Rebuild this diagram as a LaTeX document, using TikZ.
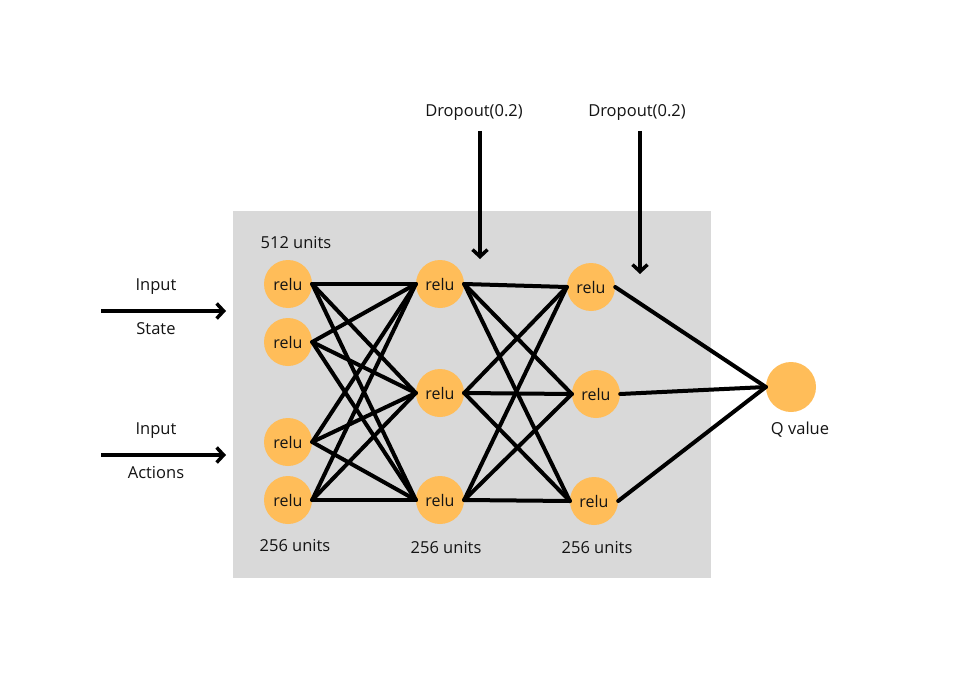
\documentclass[tikz,border=0pt]{standalone}
\usepackage{fontspec}
\setmainfont{Open Sans}
\usetikzlibrary{arrows.meta}
\definecolor{panel}{RGB}{217,217,217}
\definecolor{neuron}{RGB}{255,189,89}
\definecolor{ink}{RGB}{20,20,20}
\begin{document}
\begin{tikzpicture}[x=1pt,y=-1pt,
  unit/.style={circle,fill=neuron,minimum size=48pt,inner sep=0pt,text=ink,font=\fontsize{16}{19}\selectfont},
  lbl/.style={font=\fontsize{16.5}{20}\selectfont,text=ink,inner sep=0pt},
  wire/.style={line width=4pt,line cap=round},
  feed/.style={line width=4pt,-{Straight Barb[length=7pt,width=15pt,line width=3.5pt]}}]
\useasboundingbox[fill=white] (0,0) rectangle (965,679);
\fill[panel] (233,211) rectangle (711,578);

% hidden layer 1
\node[unit] (a1) at (288,284) {relu};
\node[unit] (a2) at (288,342) {relu};
\node[unit] (a3) at (288,442) {relu};
\node[unit] (a4) at (288,500) {relu};
% hidden layer 2
\node[unit] (b1) at (440,284) {relu};
\node[unit] (b2) at (440,393) {relu};
\node[unit] (b3) at (440,500) {relu};
% hidden layer 3
\node[unit] (c1) at (591,287) {relu};
\node[unit] (c2) at (596,394) {relu};
\node[unit] (c3) at (594,501) {relu};
% output
\node[circle,fill=neuron,minimum size=50pt,inner sep=0pt] (q) at (791,387) {};

% layer labels
\node[lbl] (u1) at (296,243) {512 units};
\node[lbl] (u2) at (295,546) {256 units};
\node[lbl] (u3) at (446,548) {256 units};
\node[lbl] (u4) at (597,548) {256 units};
\node[lbl] (qv) at (800,430) {Q value};

% connections
\foreach \i in {a1,a2,a3,a4}
  \foreach \j in {b1,b2,b3}
    \draw[wire] (\i.east) -- (\j.west);
\foreach \i in {b1,b2,b3}
  \foreach \j in {c1,c2,c3}
    \draw[wire] (\i.east) -- (\j.west);
\foreach \i in {c1,c2,c3}
  \draw[wire] (\i.east) -- (q.west);

% inputs
\coordinate (s0) at (101,311);
\coordinate (s1) at (226,311);
\coordinate (t0) at (101,455);
\coordinate (t1) at (226,455);
\draw[feed] (s0) -- (s1);
\draw[feed] (t0) -- (t1);
\node[lbl] (is) at (156,287) {Input};
\node[lbl] (st) at (156,329) {State};
\node[lbl] (ia) at (156,431) {Input};
\node[lbl] (ac) at (156,473) {Actions};

% dropout
\node[lbl] (d1) at (474,113) {Dropout(0.2)};
\node[lbl] (d2) at (637,113) {Dropout(0.2)};
\coordinate (d1a) at (480,131);
\coordinate (d1b) at (480,259);
\coordinate (d2a) at (640,131);
\coordinate (d2b) at (640,274);
\draw[feed] (d1a) -- (d1b);
\draw[feed] (d2a) -- (d2b);
\end{tikzpicture}
\end{document}
